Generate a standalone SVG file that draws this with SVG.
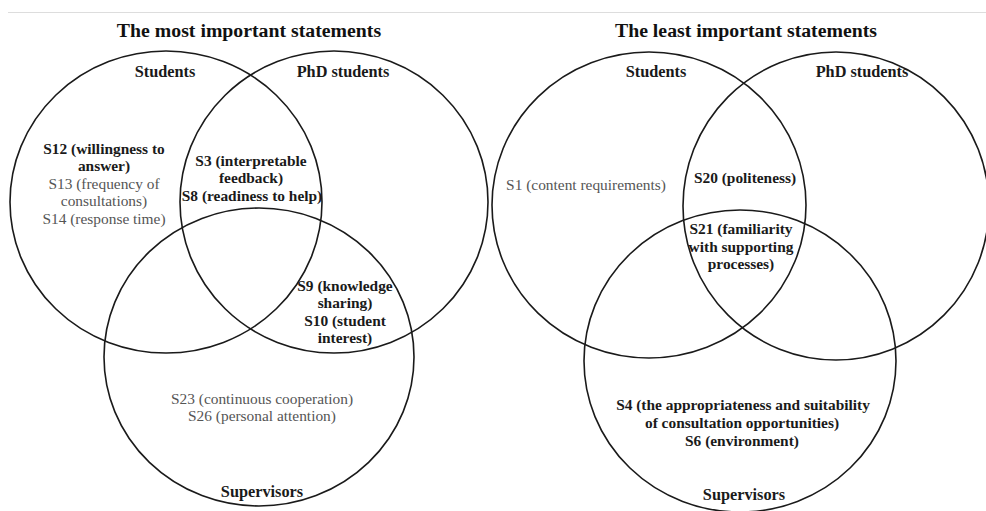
<svg xmlns="http://www.w3.org/2000/svg" width="986" height="511" viewBox="0 0 986 511">
<style>
.c{fill:none;stroke:#1a1a1a;stroke-width:1.6}
text{font-family:"Liberation Serif","Times New Roman",serif;text-anchor:middle}
.t{font-size:19.8px;font-weight:bold;fill:#111}
.h{font-size:16.3px;font-weight:bold;fill:#1a1a1a}
.b{font-size:15.4px;font-weight:bold;fill:#1a1a1a}
.r{font-size:15.4px;fill:#555}
</style>
<rect width="986" height="511" fill="#fff"/>
<line x1="8" y1="12.5" x2="986" y2="12.5" stroke="#ddd" stroke-width="1"/>
<text class="t" x="249" y="37">The most important statements</text>
<text class="t" x="746" y="37">The least important statements</text>
<g id="left-students">
<ellipse class="c" cx="166" cy="202" rx="156" ry="151"/>
<text class="h" x="165" y="77">Students</text>
<text class="b" x="104" y="154">S12 (willingness to</text>
<text class="b" x="104" y="171">answer)</text>
<text class="r" x="104" y="189">S13 (frequency of</text>
<text class="r" x="104" y="206">consultations)</text>
<text class="r" x="104" y="224">S14 (response time)</text>
</g>
<g id="left-phd">
<ellipse class="c" cx="334" cy="202" rx="154" ry="151"/>
<text class="h" x="343" y="77">PhD students</text>
</g>
<g id="left-supervisors">
<ellipse class="c" cx="259" cy="357" rx="155" ry="149"/>
<text class="h" x="262" y="497">Supervisors</text>
<text class="r" x="262" y="404">S23 (continuous cooperation)</text>
<text class="r" x="262" y="421">S26 (personal attention)</text>
</g>
<g id="left-students-phd">
<text class="b" x="251" y="166">S3 (interpretable</text>
<text class="b" x="251" y="183">feedback)</text>
<text class="b" x="252" y="201">S8 (readiness to help)</text>
</g>
<g id="left-phd-supervisors">
<text class="b" x="345" y="291">S9 (knowledge</text>
<text class="b" x="345" y="308">sharing)</text>
<text class="b" x="345" y="326">S10 (student</text>
<text class="b" x="345" y="343">interest)</text>
</g>
<g id="right-students">
<ellipse class="c" cx="649" cy="205" rx="157" ry="153"/>
<text class="h" x="656" y="77">Students</text>
<text class="r" x="586" y="190">S1 (content requirements)</text>
</g>
<g id="right-phd">
<ellipse class="c" cx="836" cy="206" rx="153" ry="154"/>
<text class="h" x="862" y="77">PhD students</text>
</g>
<g id="right-supervisors">
<ellipse class="c" cx="740" cy="361" rx="156" ry="151"/>
<text class="h" x="744" y="500">Supervisors</text>
<text class="b" x="743" y="410">S4 (the appropriateness and suitability</text>
<text class="b" x="742" y="428">of consultation opportunities)</text>
<text class="b" x="742" y="446">S6 (environment)</text>
</g>
<g id="right-students-phd">
<text class="b" x="745" y="183">S20 (politeness)</text>
</g>
<g id="right-all">
<text class="b" x="741" y="234">S21 (familiarity</text>
<text class="b" x="741" y="252">with supporting</text>
<text class="b" x="741" y="269">processes)</text>
</g>
<g id="connectors"></g>
</svg>
